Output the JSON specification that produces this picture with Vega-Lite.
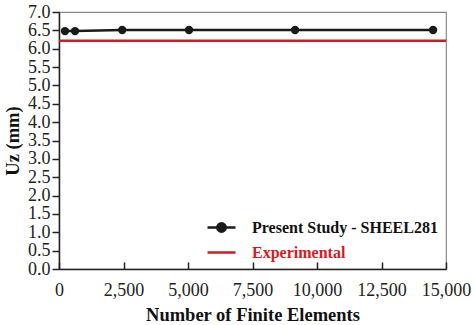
{
  "$schema": "https://vega.github.io/schema/vega-lite/v6.json",
  "width": 387,
  "height": 257,
  "autosize": {"type": "none"},
  "padding": {"left": 59, "top": 12, "right": 28, "bottom": 56},
  "background": "white",
  "config": {
    "font": "Liberation Serif",
    "view": {"stroke": "#888888", "strokeWidth": 1.2},
    "axis": {
      "grid": false,
      "labelFont": "Liberation Serif",
      "labelFontSize": 18,
      "labelColor": "#222222",
      "labelOverlap": false,
      "labelFlush": false,
      "titleFont": "Liberation Serif",
      "titleFontSize": 18.5,
      "titleFontWeight": "bold",
      "titleColor": "#111111",
      "domainColor": "#222222",
      "domainWidth": 1.5,
      "tickColor": "#222222",
      "tickWidth": 1.5
    }
  },
  "datasets": {
    "sim": [
      {"elements": 232, "uz": 6.48, "series": "Present Study - SHEEL281"},
      {"elements": 620, "uz": 6.48, "series": "Present Study - SHEEL281"},
      {"elements": 2450, "uz": 6.51, "series": "Present Study - SHEEL281"},
      {"elements": 5040, "uz": 6.51, "series": "Present Study - SHEEL281"},
      {"elements": 9150, "uz": 6.51, "series": "Present Study - SHEEL281"},
      {"elements": 14500, "uz": 6.51, "series": "Present Study - SHEEL281"}
    ],
    "exp": [
      {"uz": 6.22, "series": "Experimental"}
    ]
  },
  "encoding": {
    "y": {
      "field": "uz", "type": "quantitative",
      "scale": {"domain": [0, 7], "nice": false},
      "axis": {
        "title": "Uz (mm)",
        "values": [0, 0.5, 1, 1.5, 2, 2.5, 3, 3.5, 4, 4.5, 5, 5.5, 6, 6.5, 7],
        "format": ".1f",
        "tickSize": 7,
        "labelPadding": 2,
        "titlePadding": 5
      }
    },
    "color": {
      "field": "series", "type": "nominal",
      "scale": {"domain": ["Present Study - SHEEL281", "Experimental"], "range": ["#1a1a1a", "#d7191f"]},
      "legend": {
        "title": null,
        "orient": "bottom-right",
        "offset": 8,
        "labelFont": "Liberation Serif",
        "labelFontSize": 16,
        "labelFontWeight": "bold",
        "labelLimit": 400,
        "symbolSize": 784,
        "symbolStrokeWidth": 2.5,
        "rowPadding": -5,
        "labelOffset": 15,
        "encode": {
          "symbols": {"update": {
            "shape": {"signal": "datum.label == 'Experimental' ? 'stroke' : 'M -1 0 L 1 0 M 0.3 0 A 0.3 0.3 0 1 1 -0.3 0 A 0.3 0.3 0 1 1 0.3 0 Z'"},
            "fill": {"signal": "datum.label == 'Experimental' ? 'transparent' : '#1a1a1a'"}
          }},
          "labels": {"update": {
            "fill": {"signal": "datum.label == 'Experimental' ? '#d7191f' : '#111111'"}
          }}
        }
      }
    }
  },
  "layer": [
    {
      "data": {"name": "sim"},
      "encoding": {
        "x": {
          "field": "elements", "type": "quantitative",
          "scale": {"domain": [0, 15000], "nice": false},
          "axis": {
            "title": "Number of Finite Elements",
            "values": [0, 2500, 5000, 7500, 10000, 12500, 15000],
            "format": ",.0f",
            "tickSize": -7,
            "labelPadding": 19,
            "titlePadding": 6
          }
        }
      },
      "layer": [
        {"mark": {"type": "line", "strokeWidth": 2.5}},
        {"mark": {"type": "point", "filled": true, "size": 70, "opacity": 1}}
      ]
    },
    {
      "data": {"name": "exp"},
      "mark": {"type": "rule", "strokeWidth": 2.5},
      "encoding": {}
    }
  ]
}
